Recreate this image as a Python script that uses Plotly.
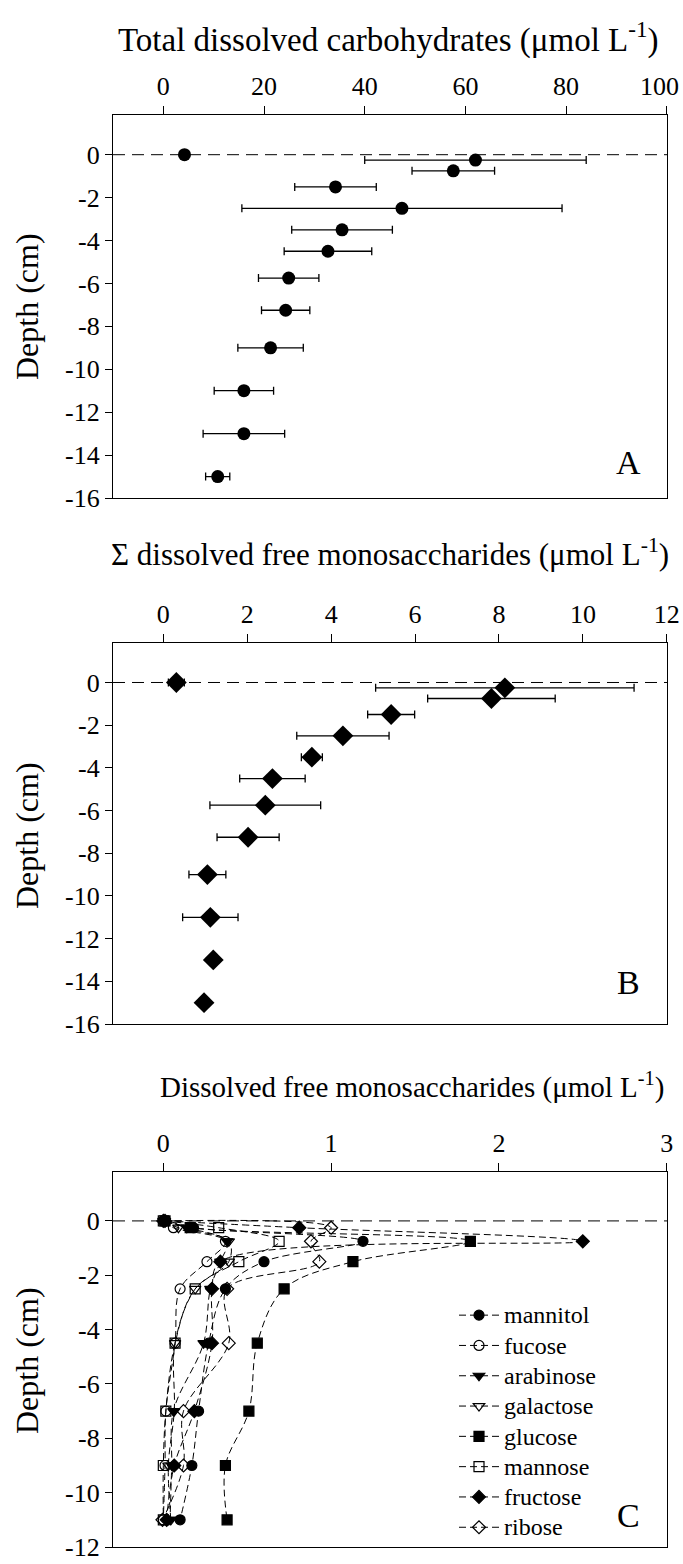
import plotly.graph_objects as go

# ---------------- data ----------------
depth_ab = [0, -0.25, -0.75, -1.5, -2.5, -3.5, -4.5, -5.75, -7.25, -9, -11, -13, -15]
total_carb = [4.2, 62.0, 57.6, 34.2, 47.4, 35.5, 32.7, 24.9, 24.3, 21.3, 16.0, 16.0, 10.8]
total_carb_err = [0, 22.0, 8.2, 8.1, 31.8, 10.0, 8.7, 6.0, 4.8, 6.5, 5.9, 8.1, 2.4]

sum_mono = [0.31, 8.14, 7.82, 5.43, 4.28, 3.54, 2.60, 2.43, 2.02, 1.05, 1.12, 1.19, 0.97]
sum_mono_err = [0.19, 3.08, 1.52, 0.56, 1.10, 0.25, 0.78, 1.32, 0.74, 0.44, 0.66, 0, 0]

depth_c = [0, -0.25, -0.75, -1.5, -2.5, -4.5, -7, -9, -11]
mannitol = [0.01, 0.18, 1.19, 0.60, 0.37, 0.27, 0.21, 0.17, 0.10]
fucose = [0.0, 0.06, 0.37, 0.26, 0.10, 0.07, 0.015, 0.01, 0.0]
arabinose = [0.01, 0.14, 0.38, 0.34, 0.28, 0.24, 0.06, 0.05, 0.04]
galactose = [0.0, 0.09, 0.39, 0.39, 0.19, 0.07, 0.065, 0.03, 0.045]
glucose = [0.01, 0.16, 1.83, 1.13, 0.72, 0.56, 0.51, 0.37, 0.38]
mannose = [0.0, 0.33, 0.69, 0.45, 0.19, 0.07, 0.015, 0.0, 0.0]
fructose = [0.01, 0.81, 2.50, 0.34, 0.29, 0.29, 0.185, 0.065, 0.02]
ribose = [0.0, 1.00, 0.88, 0.93, 0.38, 0.39, 0.12, 0.12, -0.005]

series_c = [
    ("mannitol", mannitol, "circle"),
    ("fucose", fucose, "circle-open"),
    ("arabinose", arabinose, "triangle-down"),
    ("galactose", galactose, "triangle-down-open"),
    ("glucose", glucose, "square"),
    ("mannose", mannose, "square-open"),
    ("fructose", fructose, "diamond"),
    ("ribose", ribose, "diamond-open"),
]

xticks_a = [0, 20, 40, 60, 80, 100]
xticks_b = [0, 2, 4, 6, 8, 10, 12]
xticks_c = [0, 1, 2, 3]
yticks_ab = [0, -2, -4, -6, -8, -10, -12, -14, -16]
yticks_c = [0, -2, -4, -6, -8, -10, -12]

title_a = "Total dissolved carbohydrates (\u03bcmol L<sup>-1</sup>)"
title_b = "\u03a3 dissolved free monosaccharides (\u03bcmol L<sup>-1</sup>)"
title_c = "Dissolved free monosaccharides (\u03bcmol L<sup>-1</sup>)"

# ---------------- figure ----------------
W, H = 683, 1564
FONT = "Liberation Serif"
fig = go.Figure()

def py(px):
    return 1 - px / H

def px_x(px):
    return (px - 113) / (W - 113 - 16)

# Panel A
fig.add_trace(go.Scatter(
    x=total_carb, y=depth_ab, mode="markers", xaxis="x", yaxis="y",
    marker=dict(symbol="circle", size=13, color="black"),
    error_x=dict(type="data", array=total_carb_err, visible=True,
                 color="black", thickness=1.3, width=4),
    showlegend=False))

# Panel B
fig.add_trace(go.Scatter(
    x=sum_mono, y=depth_ab, mode="markers", xaxis="x2", yaxis="y2",
    marker=dict(symbol="diamond", size=16, color="black"),
    error_x=dict(type="data", array=sum_mono_err, visible=True,
                 color="black", thickness=1.3, width=4),
    showlegend=False))

# Panel C
for name, vals, sym in series_c:
    fig.add_trace(go.Scatter(
        x=vals, y=depth_c, mode="lines+markers",
        name='<span style="font-size:24px">%s</span>' % name,
        xaxis="x3", yaxis="y3",
        line=dict(color="black", width=1, dash="7px,4px", shape="spline", smoothing=1.0),
        marker=dict(symbol=sym, size=10, color="black",
                    line=dict(color="black", width=1.2)),
    ))

tickfont = dict(family=FONT, size=26, color="black")

def xax(rng, vals, anchor, texts=None):
    return dict(range=rng, tickvals=vals,
                ticktext=texts if texts is not None else [str(v) for v in vals],
                side="top", anchor=anchor,
                domain=[0, 1], showline=True, mirror=True, linecolor="black",
                linewidth=1.3, ticks="outside", ticklen=8, tickwidth=1,
                tickcolor="black", showgrid=False, zeroline=False,
                tickfont=tickfont, fixedrange=True, ticklabeloverflow="allow")

def yax(rng, vals, anchor, dom):
    return dict(range=rng, tickvals=vals, ticktext=[str(v) for v in vals],
                anchor=anchor, domain=dom, showline=True, mirror=True,
                linecolor="black", linewidth=1.3, ticks="outside", ticklen=7,
                tickwidth=1, tickcolor="black", showgrid=False, zeroline=False,
                tickfont=tickfont, fixedrange=True, ticklabeloverflow="allow")

dom_a = [py(498), py(115)]
dom_b = [py(1024), py(643)]
dom_c = [py(1547), py(1172)]

# last label of panel A is drawn as an annotation so it is not cut at the page edge
texts_a = [str(v) for v in xticks_a[:-1]] + [""]

fig.update_layout(
    width=W, height=H,
    margin=dict(l=113, r=16, t=0, b=0, autoexpand=False),
    paper_bgcolor="white", plot_bgcolor="white",
    font=dict(family=FONT, color="black"),
    xaxis=xax([-10, 100.05], xticks_a, "y", texts_a),
    yaxis=yax([-16, 1.85], yticks_ab, "x", dom_a),
    xaxis2=xax([-1.2, 12.005], xticks_b, "y2"),
    yaxis2=yax([-16, 1.85], yticks_ab, "x2", dom_b),
    xaxis3=xax([-0.3, 3.002], xticks_c, "y3"),
    yaxis3=yax([-12, 1.8], yticks_c, "x3", dom_c),
    legend=dict(x=px_x(454), y=py(1295), xanchor="left", yanchor="top",
                font=dict(family=FONT, size=21, color="black"),
                bgcolor="rgba(0,0,0,0)", itemwidth=40),
)

# dashed zero lines
for xr, yr in [("x domain", "y"), ("x2 domain", "y2"), ("x3 domain", "y3")]:
    fig.add_shape(type="line", xref=xr, yref=yr, x0=0, x1=1, y0=0, y1=0,
                  line=dict(color="black", width=1, dash="12px,7px"), layer="below")

ann = []
ann.append(dict(text=str(xticks_a[-1]), xref="paper", yref="paper", x=px_x(681), y=py(86),
                xanchor="right", yanchor="middle", showarrow=False,
                font=tickfont))
for t, xpx, ypx, fs in [(title_a, 388, 37, 33), (title_b, 390, 553, 31), (title_c, 412, 1085, 29)]:
    ann.append(dict(text=t, xref="paper", yref="paper", x=px_x(xpx), y=py(ypx),
                    xanchor="center", yanchor="middle", showarrow=False,
                    font=dict(family=FONT, size=fs, color="black")))
for ypx in [306, 835, 1360]:
    ann.append(dict(text="Depth (cm)", xref="paper", yref="paper", x=px_x(27), y=py(ypx),
                    xanchor="center", yanchor="middle", textangle=-90, showarrow=False,
                    font=dict(family=FONT, size=32, color="black")))
for lab, ypx in [("A", 462), ("B", 983), ("C", 1515)]:
    ann.append(dict(text=lab, xref="paper", yref="paper", x=px_x(628), y=py(ypx),
                    xanchor="center", yanchor="middle", showarrow=False,
                    font=dict(family=FONT, size=34, color="black")))
fig.update_layout(annotations=ann)

fig.write_html("out.html")
